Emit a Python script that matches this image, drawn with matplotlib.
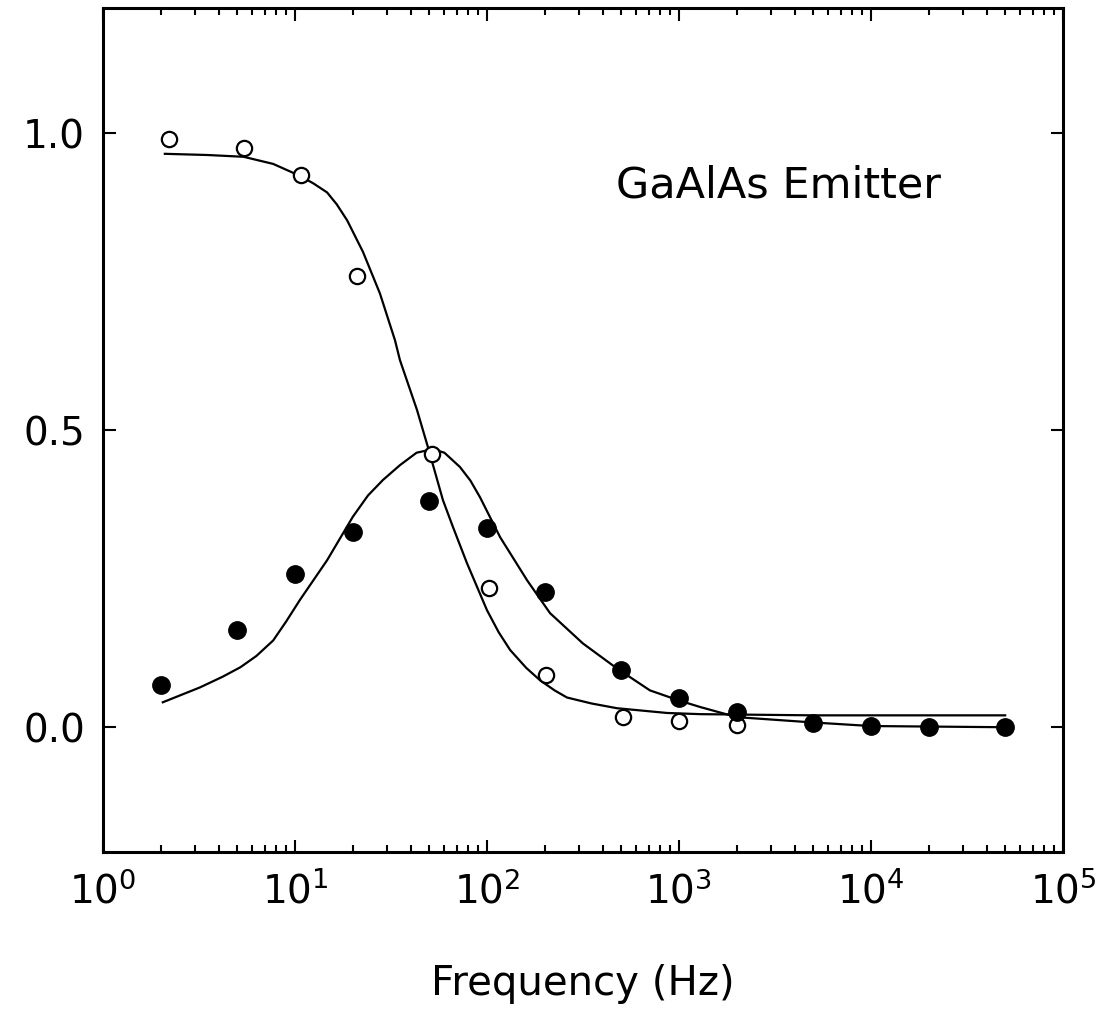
import numpy as np
import matplotlib
matplotlib.use("Agg")
import matplotlib.pyplot as plt
from matplotlib.ticker import LogLocator, FixedLocator, NullFormatter

# ---- dados ----
# pontos medidos (círculos abertos)
freq_open = [2.2, 5.4, 10.8, 21, 52, 103, 204, 510, 1000, 2000]
val_open = [0.99, 0.975, 0.93, 0.76, 0.46, 0.234, 0.088, 0.017, 0.010, 0.004]

# pontos medidos (círculos cheios)
freq_fill = [2, 5, 10, 20, 50, 100, 200, 500, 1000, 2000, 5000, 10000, 20000, 50000]
val_fill = [0.071, 0.163, 0.258, 0.328, 0.38, 0.335, 0.227, 0.096, 0.05, 0.025,
            0.007, 0.002, 0.0, 0.0]

# curva ajustada dos abertos
fit_open_f = [2.1, 3.5, 5.4, 7.7, 10.6, 12.5, 14.7, 16.5, 18.7, 22.6, 27.7, 33.2,
              35.2, 43.2, 49.3, 59, 66.5, 78.7, 100, 115, 132, 160, 189, 225, 261,
              350, 475, 866, 1290, 5000, 50000]
fit_open_v = [0.965, 0.963, 0.96, 0.948, 0.928, 0.915, 0.90, 0.88, 0.853, 0.80,
              0.73, 0.651, 0.618, 0.534, 0.471, 0.382, 0.337, 0.276, 0.197, 0.16,
              0.13, 0.10, 0.079, 0.062, 0.05, 0.04, 0.032, 0.024, 0.022, 0.02, 0.02]

# curva ajustada dos cheios
fit_fill_f = [2.05, 3.2, 4.2, 5.2, 6.3, 7.7, 9, 10.6, 14.7, 20, 24, 28.7, 35.2, 43,
              52.3, 60, 72.3, 82, 92, 117, 162, 213, 316, 475, 706, 1000, 1290,
              2000, 5000, 10000, 50000]
fit_fill_v = [0.042, 0.067, 0.085, 0.101, 0.12, 0.146, 0.178, 0.214, 0.281, 0.354,
              0.39, 0.416, 0.441, 0.462, 0.468, 0.462, 0.438, 0.415, 0.387, 0.32,
              0.247, 0.192, 0.141, 0.099, 0.062, 0.045, 0.034, 0.017, 0.008, 0.002,
              0.0]

plt.rcParams.update({
    "font.family": "DejaVu Sans",
    "mathtext.default": "regular",
    "axes.linewidth": 2.2,
})

fig = plt.figure(figsize=(11.06, 10.29), dpi=100)
ax = fig.add_axes([0.0931, 0.172, 0.868, 0.820])

ax.plot(fit_open_f, fit_open_v, color="black", lw=1.6)
ax.plot(fit_fill_f, fit_fill_v, color="black", lw=1.6)
ax.plot(freq_open, val_open, "o", ms=11, mfc="white", mec="black", mew=1.6)
ax.plot(freq_fill, val_fill, "o", ms=12.5, mfc="black", mec="black")

ax.set_xscale("log")
ax.set_xlim(1, 1e5)
ax.set_ylim(-0.21, 1.21)

ax.xaxis.set_major_locator(LogLocator(base=10, numticks=10))
ax.xaxis.set_minor_locator(LogLocator(base=10, subs=np.arange(2, 10), numticks=20))
ax.xaxis.set_minor_formatter(NullFormatter())
ax.yaxis.set_major_locator(FixedLocator([0.0, 0.5, 1.0]))
ax.set_yticklabels(["0.0", "0.5", "1.0"])

ax.tick_params(which="both", direction="in", top=True, right=True, width=1.5)
ax.tick_params(which="major", length=9, labelsize=28)
ax.tick_params(which="minor", length=5)
ax.tick_params(axis="y", pad=13)
ax.tick_params(axis="x", pad=14)

ax.set_xlabel("Frequency (Hz)", fontsize=29, labelpad=38)
ax.text(470, 0.912, "GaAlAs Emitter", fontsize=31, ha="left", va="center")

fig.savefig("out.png", dpi=100, facecolor="white")
